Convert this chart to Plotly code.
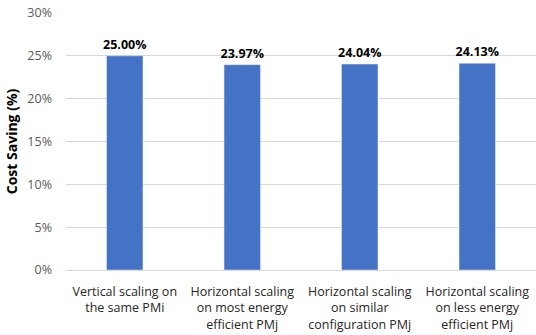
import plotly.graph_objects as go

categories = [
    "Vertical scaling on<br>the same PMi",
    "Horizontal scaling<br>on most energy<br>efficient PMj",
    "Horizontal scaling<br>on similar<br>configuration PMj",
    "Horizontal scaling<br>on less energy<br>efficient PMj",
]
values = [25.00, 23.97, 24.04, 24.13]
labels = ["25.00%", "23.97%", "24.04%", "24.13%"]
tick_vals = [0, 5, 10, 15, 20, 25, 30]
tick_text = ["0%", "5%", "10%", "15%", "20%", "25%", "30%"]

FONT = "Open Sans"

fig = go.Figure(go.Bar(
    x=categories, y=values, marker_color="#4472c4",
    text=labels, textposition="outside", cliponaxis=False,
    constraintext="none",
    textfont=dict(family=FONT, size=12.5, color="#000000"),
    texttemplate="<b>%{text}</b>",
))
fig.update_layout(
    width=536, height=335,
    margin=dict(l=66, r=0, t=13, b=65),
    paper_bgcolor="white", plot_bgcolor="white",
    bargap=0.69,
    showlegend=False,
    font=dict(family=FONT, size=12, color="#404040"),
)
fig.update_yaxes(
    range=[0, 30], tickvals=tick_vals, ticktext=tick_text,
    gridcolor="#d9d9d9", gridwidth=1, zeroline=False,
    showline=False, tickfont=dict(family=FONT, size=12.5, color="#595959"),
    title=dict(text="<b>Cost Saving (%)</b>", font=dict(family=FONT, size=14, color="#000000"), standoff=6),
    ticks="", ticklabelstandoff=13, automargin=False, ticklabeloverflow="allow",
)
fig.update_xaxes(
    showline=True, linecolor="#d9d9d9", linewidth=1,
    tickfont=dict(family=FONT, size=12.5, color="#262626"), ticks="",
    automargin=False, ticklabelstandoff=10, ticklabeloverflow="allow",
)
fig.write_html("out.html", config={"displayModeBar": False},
               post_script="document.body.style.margin='0';")
